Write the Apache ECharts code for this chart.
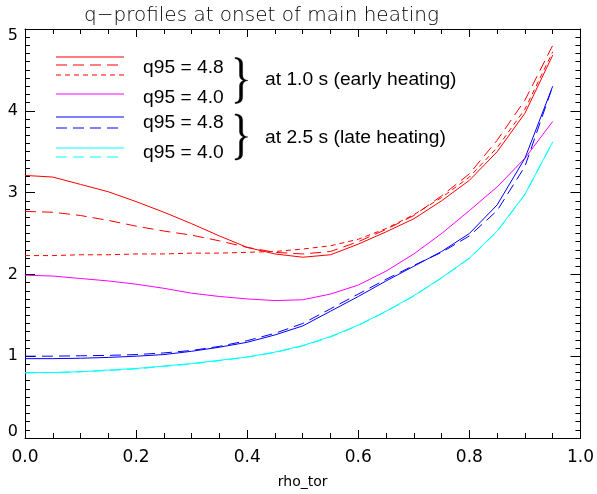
<!DOCTYPE html>
<html>
<head>
<meta charset="utf-8">
<script src="https://cdn.jsdelivr.net/npm/echarts@6/dist/echarts.min.js"></script>
<style>
  html, body { margin: 0; padding: 0; background: #fff; }
  #chart { width: 597px; height: 494px; }
</style>
</head>
<body>
<div id="chart"></div>
<script>
// Normalised toroidal radius grid
var rho = [0.00, 0.05, 0.10, 0.15, 0.20, 0.25, 0.30, 0.35, 0.40, 0.45,
           0.50, 0.55, 0.60, 0.65, 0.70, 0.75, 0.80, 0.85, 0.90, 0.95];

// q-profiles at 1.0 s (early heating)
var qEarly48a = [3.21, 3.19, 3.10, 3.01, 2.89, 2.76, 2.62, 2.47, 2.33, 2.25,
                 2.21, 2.24, 2.37, 2.52, 2.68, 2.90, 3.15, 3.50, 3.97, 4.68];
var qEarly48b = [2.77, 2.76, 2.72, 2.66, 2.59, 2.53, 2.48, 2.41, 2.33, 2.27,
                 2.25, 2.28, 2.40, 2.55, 2.72, 2.96, 3.23, 3.64, 4.13, 4.80];
var qEarly48c = [2.23, 2.23, 2.24, 2.24, 2.25, 2.25, 2.26, 2.26, 2.27, 2.28,
                 2.31, 2.35, 2.43, 2.56, 2.73, 2.94, 3.19, 3.55, 4.02, 4.72];
var qEarly40  = [1.99, 1.98, 1.95, 1.92, 1.88, 1.83, 1.77, 1.73, 1.70, 1.68,
                 1.69, 1.76, 1.87, 2.04, 2.25, 2.50, 2.78, 3.07, 3.42, 3.87];

// q-profiles at 2.5 s (late heating)
var qLate48a  = [0.97, 0.97, 0.975, 0.985, 1.00, 1.02, 1.06, 1.11, 1.17, 1.26,
                 1.37, 1.55, 1.73, 1.92, 2.10, 2.28, 2.50, 2.85, 3.42, 4.30];
var qLate48b  = [1.00, 1.00, 1.005, 1.01, 1.02, 1.04, 1.07, 1.12, 1.19, 1.28,
                 1.40, 1.58, 1.76, 1.94, 2.11, 2.27, 2.47, 2.78, 3.32, 4.30];
var qLate40a  = [0.80, 0.80, 0.81, 0.83, 0.85, 0.88, 0.91, 0.95, 0.99, 1.05,
                 1.13, 1.24, 1.38, 1.55, 1.74, 1.96, 2.20, 2.53, 2.98, 3.62];
var qLate40b  = [0.795, 0.80, 0.81, 0.825, 0.845, 0.875, 0.905, 0.945, 0.99, 1.045,
                 1.125, 1.235, 1.375, 1.545, 1.735, 1.955, 2.195, 2.525, 2.975, 3.615];

// Axis tick labels
var xTicks = [0.0, 0.2, 0.4, 0.6, 0.8, 1.0];
var yTicks = [0, 1, 2, 3, 4, 5];

var RED = '#ff0000', MAG = '#ff00ff', BLUE = '#0000ff', CYAN = '#00ffff';
var LONG_DASH = [11, 6], SHORT_DASH = [5, 4];

function pairs(ys) {
  return rho.map(function (r, i) { return [r, ys[i]]; });
}

function profile(ys, color, dash) {
  return {
    type: 'line',
    data: pairs(ys),
    symbol: 'none',
    silent: true,
    animation: false,
    lineStyle: { color: color, width: 1, type: dash || 'solid' }
  };
}

var axisFont = 'DejaVu Sans';

function xAxisDef(pos, showLabels) {
  return {
    type: 'value', position: pos,
    min: xTicks[0], max: xTicks[xTicks.length - 1],
    interval: xTicks[1] - xTicks[0],
    axisLine: { show: true, onZero: false, lineStyle: { color: '#000', width: 1 } },
    axisTick: { show: true, inside: true, length: 8, lineStyle: { color: '#000' } },
    minorTick: { show: true, splitNumber: 4, length: 5, lineStyle: { color: '#000' } },
    splitLine: { show: false },
    minorSplitLine: { show: false },
    axisLabel: {
      show: showLabels, color: '#000', fontFamily: axisFont, fontSize: 17, margin: 11,
      formatter: function (v) { return v.toFixed(1); }
    },
    name: showLabels ? 'rho_tor' : '',
    nameLocation: 'middle', nameGap: 37,
    nameTextStyle: { color: '#000', fontFamily: axisFont, fontSize: 14 }
  };
}

function yAxisDef(pos, showLabels) {
  var yMin = yTicks[0], yMax = yTicks[yTicks.length - 1];
  return {
    type: 'value', position: pos,
    min: yMin, max: yMax,
    interval: yTicks[1] - yTicks[0],
    axisLine: { show: true, onZero: false, lineStyle: { color: '#000', width: 1 } },
    axisTick: { show: true, inside: true, length: 10, lineStyle: { color: '#000' } },
    minorTick: { show: true, splitNumber: 10, length: 5, lineStyle: { color: '#000' } },
    splitLine: { show: false },
    minorSplitLine: { show: false },
    axisLabel: {
      show: showLabels, color: '#000', fontFamily: axisFont, fontSize: 16, margin: 7,
      // end labels are nudged inside the frame
      formatter: function (v) {
        if (v === yMin) return '{lo|' + v + '}';
        if (v === yMax) return '{hi|' + v + '}';
        return String(v);
      },
      rich: {
        lo: { color: '#000', fontFamily: axisFont, fontSize: 16, padding: [0, 0, 13, 0] },
        hi: { color: '#000', fontFamily: axisFont, fontSize: 16, padding: [13, 0, 0, 0] }
      }
    }
  };
}

// Key drawn as plain graphics: sample strokes, labels and grouping braces
var keyX0 = 56, keyX1 = 124;
var keyRows = [
  { y: 57, color: RED,  dash: null },
  { y: 65, color: RED,  dash: LONG_DASH },
  { y: 75, color: RED,  dash: SHORT_DASH },
  { y: 94, color: MAG,  dash: null },
  { y: 117, color: BLUE, dash: null },
  { y: 128, color: BLUE, dash: LONG_DASH },
  { y: 148, color: CYAN, dash: null },
  { y: 157, color: CYAN, dash: LONG_DASH }
];
var keyLabels = [
  { text: 'q95 = 4.8', y: 68 },
  { text: 'q95 = 4.0', y: 98 },
  { text: 'q95 = 4.8', y: 123.5 },
  { text: 'q95 = 4.0', y: 153 }
];
var groupLabels = [
  { text: 'at 1.0 s (early heating)', y: 80 },
  { text: 'at 2.5 s (late heating)', y: 138.5 }
];
var braceTops = [57.5, 114];

// Closing-brace outline in a 13 x 46 box, as cubic segments [p1, p2, p3]
// following a start point; straight runs are written as degenerate cubics.
var BRACE_START = [0, 0];
var BRACE_SEGS = [
  [[5, 0], [7.6, 2], [7.6, 7]],
  [[7.6, 10], [7.6, 14], [7.6, 17]],
  [[7.6, 20.5], [9, 22.5], [13, 23]],
  [[9, 23.5], [7.6, 25.5], [7.6, 29]],
  [[7.6, 32], [7.6, 36], [7.6, 39]],
  [[7.6, 44], [5, 46], [0, 46]],
  [[0, 45.6], [0, 45.2], [0, 44.8]],
  [[3, 44.6], [4.5, 43], [4.5, 39]],
  [[4.5, 36], [4.5, 32], [4.5, 29]],
  [[4.5, 25.5], [6, 23.8], [9, 23]],
  [[6, 22.2], [4.5, 20.5], [4.5, 17]],
  [[4.5, 14], [4.5, 10], [4.5, 7]],
  [[4.5, 3], [3, 1.4], [0, 1.2]]
];

function bracePoints(ox, oy) {
  var pts = [[ox + BRACE_START[0], oy + BRACE_START[1]]];
  var p0 = BRACE_START;
  BRACE_SEGS.forEach(function (s) {
    for (var k = 1; k <= 8; k++) {
      var t = k / 8, u = 1 - t;
      var x = u*u*u*p0[0] + 3*u*u*t*s[0][0] + 3*u*t*t*s[1][0] + t*t*t*s[2][0];
      var y = u*u*u*p0[1] + 3*u*u*t*s[0][1] + 3*u*t*t*s[1][1] + t*t*t*s[2][1];
      pts.push([ox + x, oy + y]);
    }
    p0 = s[2];
  });
  return pts;
}

var graphics = [];
keyRows.forEach(function (r) {
  graphics.push({
    type: 'line', silent: true,
    shape: { x1: keyX0, y1: r.y, x2: keyX1, y2: r.y },
    style: { stroke: r.color, lineWidth: 1.2, lineDash: r.dash || null }
  });
});
var keyFont = 'Liberation Sans';
keyLabels.forEach(function (l) {
  graphics.push({
    type: 'text', silent: true, x: 143, y: l.y, scaleX: 1.1,
    style: { text: l.text, fontFamily: keyFont, fontSize: 17.5, fill: '#000',
             textAlign: 'left', textVerticalAlign: 'middle' }
  });
});
groupLabels.forEach(function (l) {
  graphics.push({
    type: 'text', silent: true, x: 265, y: l.y, scaleX: 1.1,
    style: { text: l.text, fontFamily: keyFont, fontSize: 17.5, fill: '#000',
             textAlign: 'left', textVerticalAlign: 'middle' }
  });
});
braceTops.forEach(function (t) {
  graphics.push({
    type: 'polygon', silent: true,
    shape: { points: bracePoints(235, t) },
    style: { fill: '#000', stroke: '#000', lineWidth: 0.4 }
  });
});
// Title
graphics.push({
  type: 'text', silent: true, x: 261.5, y: 16,
  style: { text: 'q\u2212profiles at onset of main heating', fontFamily: axisFont, fontWeight: 200,
           fontSize: 20, fill: '#000', textAlign: 'center', textVerticalAlign: 'middle' }
});

var chart = echarts.init(document.getElementById('chart'), null, { renderer: 'canvas' });
chart.setOption({
  animation: false,
  backgroundColor: '#fff',
  grid: { left: 25, right: 14, top: 29, bottom: 52, containLabel: false },
  xAxis: [xAxisDef('bottom', true), xAxisDef('top', false)],
  yAxis: [yAxisDef('left', true), yAxisDef('right', false)],
  series: [
    profile(qEarly48a, RED),
    profile(qEarly48b, RED, LONG_DASH),
    profile(qEarly48c, RED, SHORT_DASH),
    profile(qEarly40, MAG),
    profile(qLate48a, BLUE),
    profile(qLate48b, BLUE, LONG_DASH),
    profile(qLate40a, CYAN),
    profile(qLate40b, CYAN, LONG_DASH)
  ],
  graphic: graphics
});
</script>
</body>
</html>
